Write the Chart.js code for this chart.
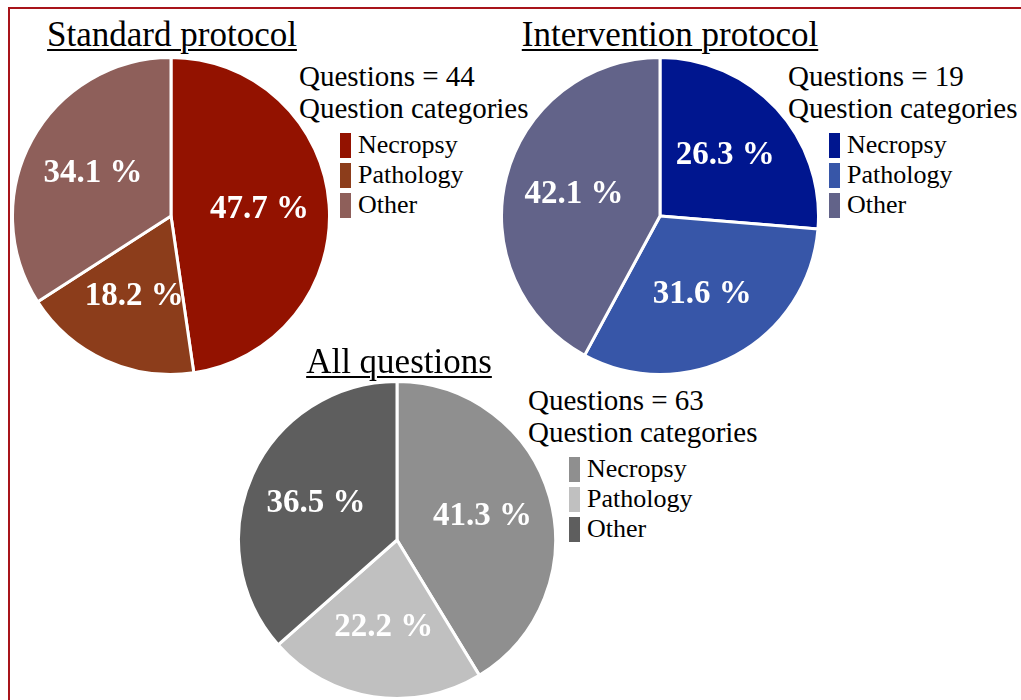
<!DOCTYPE html>
<html>
<head>
<meta charset="utf-8">
<script src="https://cdn.jsdelivr.net/npm/chart.js@4/dist/chart.umd.min.js"></script>
<style>
  body { margin: 0; width: 1021px; height: 700px; overflow: hidden; background: #fff;
         font-family: "Liberation Serif", "Times New Roman", serif; }
  .frame { position: absolute; left: 8px; top: 7px; width: 1200px; height: 900px;
           border-top: 2px solid #a8141a; border-left: 2px solid #a8141a; }
  .pie { position: absolute; width: 320px; height: 320px; }
  .title { position: absolute; font-size: 35px; text-decoration: underline;
           text-decoration-thickness: 2px; text-underline-offset: 3px; white-space: nowrap;
           transform: translateX(-50%); line-height: 1; }
  .info { position: absolute; font-size: 29px; line-height: 32px; white-space: nowrap; }
  .legend { margin-top: 6px; margin-left: 41px; font-size: 26px; }
  .legend div { height: 30px; line-height: 30px; display: flex; align-items: center; }
  .legend span.box { display: inline-block; width: 11px; height: 25px; margin-right: 7px; }
</style>
</head>
<body>
<div class="frame"></div>

<script>
// ========================================
// DADOS
// ========================================
const categories = ['Necropsy', 'Pathology', 'Other'];

const standardValues = [47.7, 18.2, 34.1];
const interventionValues = [26.3, 31.6, 42.1];
const allValues = [41.3, 22.2, 36.5];

const questionCounts = [44, 19, 63];
const chartTitles = ['Standard protocol', 'Intervention protocol', 'All questions'];

const standardColors = ['#931200', '#8c3d1b', '#8e5f5a'];
const interventionColors = ['#00168f', '#3756a8', '#626389'];
const allColors = ['#8f8f8f', '#c0c0c0', '#5e5e5e'];

// ========================================
// RÓTULOS DE PORCENTAGEM
// ========================================
const percentLabels = {
    id: 'percentLabels',
    afterDatasetsDraw(chart) {
        const ctx = chart.ctx;
        const meta = chart.getDatasetMeta(0);
        const values = chart.data.datasets[0].data;
        ctx.save();
        ctx.fillStyle = '#ffffff';
        ctx.font = 'bold 33px "Liberation Serif", serif';
        ctx.textAlign = 'center';
        ctx.textBaseline = 'middle';
        meta.data.forEach((arc, i) => {
            const mid = (arc.startAngle + arc.endAngle) / 2;
            const r = arc.outerRadius * 0.56;
            const x = arc.x + Math.cos(mid) * r;
            const y = arc.y + Math.sin(mid) * r;
            ctx.fillText(values[i].toFixed(1) + ' %', x, y);
        });
        ctx.restore();
    }
};

// ========================================
// MONTAGEM DOS GRÁFICOS
// ========================================
const layouts = [
    { values: standardValues, colors: standardColors, left: 11, top: 56,
      titleX: 172, titleY: 17, infoX: 299, infoY: 60 },
    { values: interventionValues, colors: interventionColors, left: 500, top: 56,
      titleX: 670, titleY: 17, infoX: 788, infoY: 60 },
    { values: allValues, colors: allColors, left: 237, top: 380,
      titleX: 399, titleY: 344, infoX: 528, infoY: 384 }
];

layouts.forEach((p, n) => {
    const title = document.createElement('div');
    title.className = 'title';
    title.style.left = p.titleX + 'px';
    title.style.top = p.titleY + 'px';
    title.textContent = chartTitles[n];
    document.body.appendChild(title);

    const info = document.createElement('div');
    info.className = 'info';
    info.style.left = p.infoX + 'px';
    info.style.top = p.infoY + 'px';
    let html = '<div>Questions = ' + questionCounts[n] + '</div><div>Question categories</div><div class="legend">';
    categories.forEach((c, i) => {
        html += '<div><span class="box" style="background:' + p.colors[i] + '"></span>' + c + '</div>';
    });
    html += '</div>';
    info.innerHTML = html;
    document.body.appendChild(info);

    const wrap = document.createElement('div');
    wrap.className = 'pie';
    wrap.style.left = p.left + 'px';
    wrap.style.top = p.top + 'px';
    const canvas = document.createElement('canvas');
    wrap.appendChild(canvas);
    document.body.appendChild(wrap);

    new Chart(canvas, {
        type: 'pie',
        data: {
            labels: categories,
            datasets: [{
                data: p.values,
                backgroundColor: p.colors,
                borderColor: '#ffffff',
                borderWidth: 3
            }]
        },
        options: {
            responsive: true,
            maintainAspectRatio: false,
            animation: false,
            layout: { padding: 0 },
            plugins: {
                legend: { display: false },
                tooltip: { enabled: false }
            }
        },
        plugins: [percentLabels]
    });
});
</script>
</body>
</html>
